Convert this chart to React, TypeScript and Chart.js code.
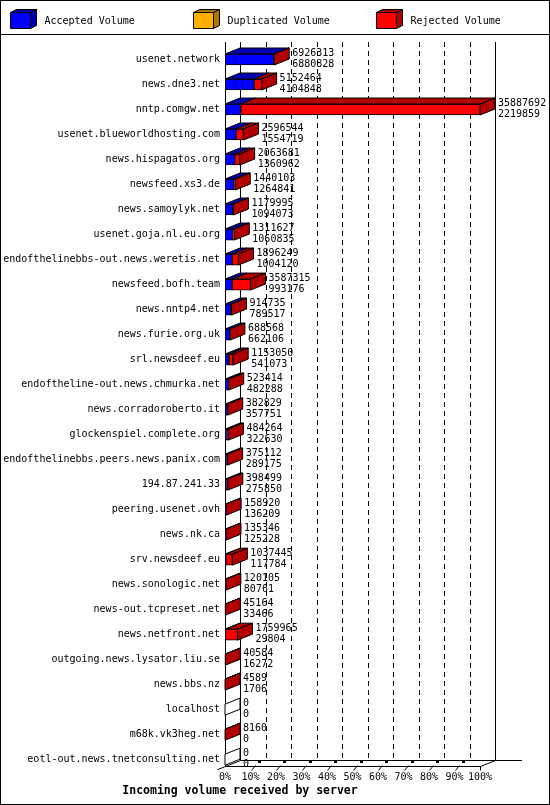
import { useEffect, useRef } from 'react';
import { Chart, registerables } from 'chart.js';

Chart.register(...registerables);

const servers = [
  'usenet.network',
  'news.dne3.net',
  'nntp.comgw.net',
  'usenet.blueworldhosting.com',
  'news.hispagatos.org',
  'newsfeed.xs3.de',
  'news.samoylyk.net',
  'usenet.goja.nl.eu.org',
  'endofthelinebbs-out.news.weretis.net',
  'newsfeed.bofh.team',
  'news.nntp4.net',
  'news.furie.org.uk',
  'srl.newsdeef.eu',
  'endoftheline-out.news.chmurka.net',
  'news.corradoroberto.it',
  'glockenspiel.complete.org',
  'endofthelinebbs.peers.news.panix.com',
  '194.87.241.33',
  'peering.usenet.ovh',
  'news.nk.ca',
  'srv.newsdeef.eu',
  'news.sonologic.net',
  'news-out.tcpreset.net',
  'news.netfront.net',
  'outgoing.news.lysator.liu.se',
  'news.bbs.nz',
  'localhost',
  'm68k.vk3heg.net',
  'eotl-out.news.tnetconsulting.net',
];

// total incoming volume per server (first number next to each bar)
const totalVolume = [
  6926313, 5152464, 35887692, 2596544, 2063681, 1440103, 1179995, 1311627,
  1896249, 3587315, 914735, 688568, 1153050, 523414, 382829, 484264, 375112,
  398499, 158920, 135346, 1037445, 120105, 45164, 1759965, 40584, 4589, 0,
  8160, 0,
];

// accepted volume (second number)
const acceptedVolume = [
  6880828, 4104848, 2219859, 1554719, 1360962, 1264841, 1094073, 1060835,
  1004120, 993176, 789517, 662106, 541073, 482288, 357751, 322630, 289175,
  275850, 136209, 125228, 117784, 80761, 33466, 29804, 16272, 1706, 0, 0, 0,
];

const duplicatedVolume = [
  0, 0, 0, 0, 0, 0, 0, 0, 0, 0, 0, 0, 0, 0, 0, 0, 0, 0, 0, 0, 0, 0, 0, 0, 0,
  0, 0, 0, 0,
];

const rejectedVolume = totalVolume.map((t, i) => t - acceptedVolume[i] - duplicatedVolume[i]);

const legendLabels = ['Accepted Volume', 'Duplicated Volume', 'Rejected Volume'];
const percentTicks = ['0%', '10%', '20%', '30%', '40%', '50%', '60%', '70%', '80%', '90%', '100%'];

const MAX = Math.max(...totalVolume);
const FRONT = ['#0000ff', '#ffb000', '#ff0000'];
const DARK = ['#0000b0', '#b07800', '#b00000'];
const DX = 15;
const DY = 6;
const MONO = '"DejaVu Sans Mono", monospace';

type Pt = [number, number];

function face(ctx: CanvasRenderingContext2D, pts: Pt[], fill: string) {
  ctx.beginPath();
  pts.forEach(([px, py], k) => (k ? ctx.lineTo(px, py) : ctx.moveTo(px, py)));
  ctx.closePath();
  ctx.fillStyle = fill;
  ctx.fill();
  ctx.strokeStyle = '#000';
  ctx.lineWidth = 1;
  ctx.stroke();
}

function seg(ctx: CanvasRenderingContext2D, x1: number, y1: number, x2: number, y2: number) {
  ctx.beginPath();
  ctx.moveTo(x1, y1);
  ctx.lineTo(x2, y2);
  ctx.stroke();
}

const bars3d = {
  id: 'bars3d',
  beforeDraw(chart: any) {
    const { ctx, width, height } = chart;
    ctx.save();
    ctx.fillStyle = '#fff';
    ctx.fillRect(0, 0, width, height);
    ctx.strokeStyle = '#000';
    ctx.lineWidth = 1;
    ctx.strokeRect(0.5, 0.5, width - 1, height - 1);
    seg(ctx, 0, 34.5, width, 34.5);

    // legend with small 3d boxes
    ctx.font = `10px ${MONO}`;
    ctx.textBaseline = 'middle';
    legendLabels.forEach((label, i) => {
      const x = 10.5 + i * 183;
      const y = 12.5;
      const w = 20;
      const h = 16;
      face(ctx, [[x, y], [x + w, y], [x + w + 6, y - 3], [x + 6, y - 3]], DARK[i]);
      face(ctx, [[x + w, y], [x + w + 6, y - 3], [x + w + 6, y + h - 3], [x + w, y + h]], DARK[i]);
      face(ctx, [[x, y], [x + w, y], [x + w, y + h], [x, y + h]], FRONT[i]);
      ctx.fillStyle = '#000';
      ctx.fillText(label, x + 34, 21);
    });
    ctx.restore();
  },
  beforeDatasetsDraw(chart: any) {
    const { ctx, chartArea } = chart;
    const xs = chart.scales.x;
    const top = chartArea.top - 5;
    const floor = Math.round(chartArea.bottom - 6) + 0.5;
    const left = Math.round(chartArea.left) + 0.5;
    const right = Math.round(chartArea.right) + 0.5;
    ctx.save();
    ctx.strokeStyle = '#000';
    ctx.lineWidth = 1;
    xs.ticks.forEach((t: any, k: number) => {
      const px = Math.round(xs.getPixelForValue(t.value)) + DX + 0.5;
      const last = k === xs.ticks.length - 1;
      ctx.setLineDash(k === 0 || last ? [] : [5, 4]);
      seg(ctx, px, top, px, floor - DY);
    });
    ctx.setLineDash([]);
    seg(ctx, left, top, left, floor);
    // floor
    seg(ctx, left + DX, floor - DY, 522, floor - DY);
    seg(ctx, left, floor, right, floor);
    seg(ctx, left - 8, floor + 3.2, left + DX, floor - DY);
    seg(ctx, right, floor, right + DX, floor - DY);
    xs.ticks.forEach((t: any, k: number) => {
      if (k === 0) return;
      const px = Math.round(xs.getPixelForValue(t.value)) + 0.5;
      if (k === xs.ticks.length - 1) {
        seg(ctx, px, floor, px, floor + 4);
        return;
      }
      seg(ctx, px, floor + 4, px + 4, floor - 1);
      ctx.fillStyle = '#000';
      ctx.fillRect(px + 6.5, floor - 5.5, 3, 2);
    });
    ctx.restore();
  },
  afterDatasetsDraw(chart: any) {
    const { ctx } = chart;
    const metas = [0, 1, 2].map((d) => chart.getDatasetMeta(d));
    ctx.save();
    ctx.font = `10px ${MONO}`;
    ctx.textBaseline = 'middle';
    servers.forEach((_, i) => {
      const first = metas[0].data[i] as any;
      const top = first.y - first.height / 2;
      const bottom = first.y + first.height / 2;
      let end = Math.min(first.base, first.x);
      let lastSeg = -1;
      metas.forEach((m, d) => {
        const b = m.data[i] as any;
        const l = Math.min(b.base, b.x);
        const r = Math.max(b.base, b.x);
        if (r - l <= 0) return;
        face(ctx, [[l, top], [r, top], [r + DX, top - DY], [l + DX, top - DY]], DARK[d]);
        end = r;
        lastSeg = d;
      });
      face(
        ctx,
        [[end, top], [end + DX, top - DY], [end + DX, bottom - DY], [end, bottom]],
        lastSeg >= 0 ? DARK[lastSeg] : '#fff',
      );
      ctx.fillStyle = '#000';
      ctx.fillText(String(totalVolume[i]), end + DX + 3, first.y - 6);
      ctx.fillText(String(acceptedVolume[i]), end + DX + 3, first.y + 5);
    });
    ctx.restore();
  },
};

export default function App() {
  const canvasRef = useRef<HTMLCanvasElement>(null);
  const chartRef = useRef<Chart | null>(null);

  useEffect(() => {
    document.body.style.margin = '0';
    if (!canvasRef.current) return;
    if (chartRef.current) chartRef.current.destroy();

    const series = [acceptedVolume, duplicatedVolume, rejectedVolume];

    chartRef.current = new Chart(canvasRef.current, {
      type: 'bar',
      data: {
        labels: servers,
        datasets: series.map((values, d) => ({
          label: legendLabels[d],
          data: values,
          backgroundColor: FRONT[d],
          borderColor: '#000',
          borderWidth: 1,
          borderSkipped: false,
          barThickness: 11,
        })),
      },
      options: {
        indexAxis: 'y',
        responsive: false,
        devicePixelRatio: 1,
        animation: false,
        events: [],
        layout: { padding: { top: 47, right: 70, bottom: 0, left: 0 } },
        plugins: {
          legend: { display: false },
          tooltip: { enabled: false },
          title: {
            display: true,
            position: 'bottom',
            text: 'Incoming volume received by server',
            color: '#000',
            font: { family: MONO, size: 11.5, weight: 'bold', lineHeight: 1.2 },
            padding: { top: 0, bottom: 7 },
          },
        },
        scales: {
          x: {
            type: 'linear',
            stacked: true,
            min: 0,
            max: MAX,
            afterBuildTicks: (axis: any) => {
              axis.ticks = percentTicks.map((_, k) => ({ value: (MAX * k) / 10 }));
            },
            afterFit: (axis: any) => {
              axis.height = 12;
            },
            grid: { display: false, drawTicks: false },
            border: { display: false },
            ticks: {
              padding: 0,
              color: '#000',
              font: { family: MONO, size: 10, lineHeight: 1 },
              maxRotation: 0,
              autoSkip: false,
              callback: (_v: any, idx: number) => percentTicks[idx],
            },
          },
          y: {
            stacked: true,
            afterFit: (axis: any) => {
              axis.width = 225;
            },
            grid: { display: false, drawTicks: false },
            border: { display: false },
            ticks: {
              padding: 5,
              color: '#000',
              autoSkip: false,
              font: { family: MONO, size: 10, lineHeight: 1 },
            },
          },
        },
      },
      plugins: [bars3d],
    });

    return () => chartRef.current?.destroy();
  }, []);

  return <canvas ref={canvasRef} width={550} height={805} style={{ display: 'block' }} />;
}
